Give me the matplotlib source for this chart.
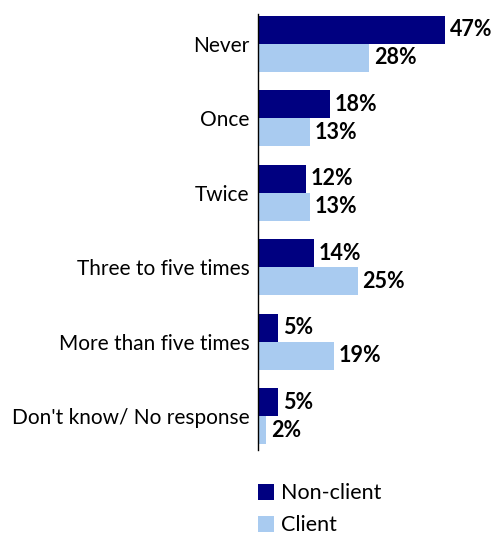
import matplotlib
matplotlib.use("Agg")
import matplotlib.pyplot as plt
import numpy as np

categories = ["Never", "Once", "Twice", "Three to five times",
              "More than five times", "Don't know/ No response"]
non_client = [47, 18, 12, 14, 5, 5]
client = [28, 13, 13, 25, 19, 2]

NAVY = "#000080"
LIGHT = "#A9CBF0"

plt.rcParams["font.family"] = ["Lato", "DejaVu Sans"]

fig = plt.figure(figsize=(4.96, 5.37), dpi=100)
ax = fig.add_axes([0.52, 0.162, 0.478, 0.812])

y = np.arange(len(categories))
h = 0.375
b1 = ax.barh(y - h / 2, non_client, height=h, color=NAVY, label="Non-client")
b2 = ax.barh(y + h / 2, client, height=h, color=LIGHT, label="Client")

# value labels just past the end of each bar
for bars, vals in ((b1, non_client), (b2, client)):
    for bar, v in zip(bars, vals):
        ax.text(v + 1.2, bar.get_y() + bar.get_height() / 2, f"{v}%",
                va="center", ha="left", fontsize=15.5, fontweight="bold")

ax.set_xlim(0, 59.5)
ax.set_ylim(len(categories) - 0.544, -0.4)
ax.set_yticks(y)
ax.set_yticklabels(categories, fontsize=15)
ax.tick_params(axis="y", length=0, pad=6)
ax.set_xticks([])
for s in ("top", "right", "bottom"):
    ax.spines[s].set_visible(False)
ax.spines["left"].set_linewidth(1.0)

fig.legend(loc="upper left", bbox_to_anchor=(0.502, 0.116), frameon=False,
           fontsize=15.5, handlelength=0.75, handleheight=0.75, handletextpad=0.35,
           labelspacing=0.55, borderaxespad=0)

fig.savefig("out.png", dpi=100)
